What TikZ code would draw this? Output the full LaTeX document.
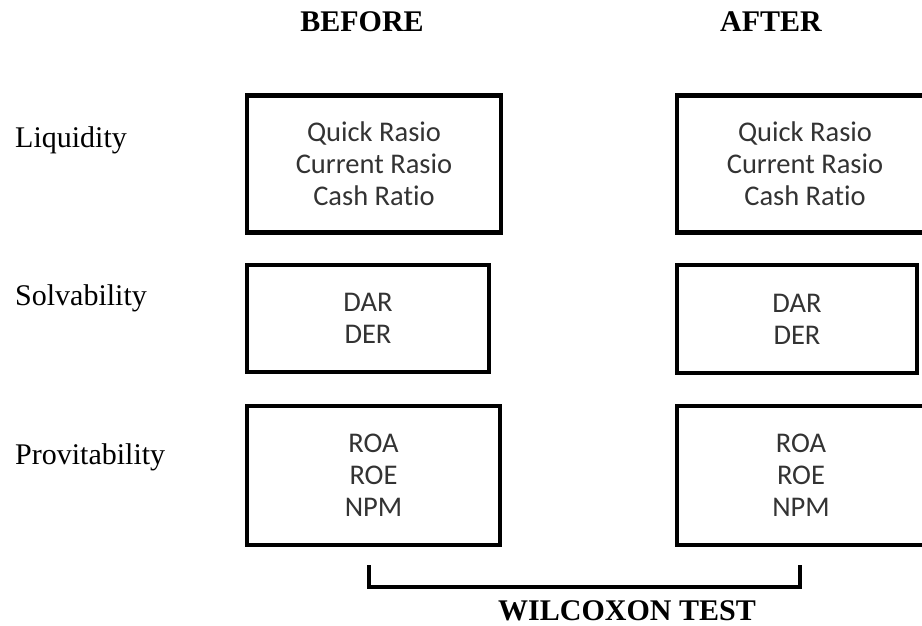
\documentclass[tikz,border=0pt]{standalone}
\usepackage{fontspec}
\setmainfont{Liberation Serif}
\newfontfamily\isifont[Ligatures=NoCommon]{Carlito}
\usetikzlibrary{positioning,calc}
\tikzstyle{indikator} = [rectangle, draw=black, line width=4.5pt, align=center,
text=black!80, font=\isifont\fontsize{28.5}{32}\selectfont]
\tikzstyle{aspek} = [anchor=base west, inner sep=0pt, font=\fontsize{30}{34}\selectfont]
\tikzstyle{judul} = [inner sep=0pt, font=\bfseries\fontsize{30}{34}\selectfont]
\tikzstyle{kurung} = [line width=4pt]

\begin{document}
\begin{tikzpicture}[x=1pt,y=-1pt]
	\clip (0,0) rectangle (922,626);
	\node[judul] (sebelum) at (362,22) {BEFORE};
	\node[judul] (sesudah) at (771,22) {AFTER};
	\node[aspek] (likuid) at (15,147) {Liquidity};
	\node[aspek] (solva) at (15,305) {Solvability};
	\node[aspek] (profit) at (15,464) {Provitability};
	% kolom sebelum
	\node[indikator, minimum width=254pt, minimum height=137pt] (likuidA) at (374,164) {Quick Rasio\\Current Rasio\\Cash Ratio};
	\node[indikator, minimum width=242pt, minimum height=107pt] (solvaA) at (368,318.5) {DAR\\DER};
	\node[indikator, minimum width=253pt, minimum height=139pt] (profitA) at (373.5,475.5) {ROA\\ROE\\NPM};
	% kolom sesudah
	\node[indikator, minimum width=256pt, minimum height=137pt] (likuidB) at (805,164) {Quick Rasio\\Current Rasio\\Cash Ratio};
	\node[indikator, minimum width=240pt, minimum height=108pt] (solvaB) at (797,319) {DAR\\DER};
	\node[indikator, minimum width=248pt, minimum height=139pt] (profitB) at (801,475.5) {ROA\\ROE\\NPM};
	% uji
	\coordinate (kiri) at (369,565);
	\coordinate (kanan) at (800,565);
	\draw[kurung] (kiri) -- ++(0,22) -| (kanan);
	\node[judul] (uji) at (627,611) {WILCOXON TEST};
\end{tikzpicture}
\end{document}
